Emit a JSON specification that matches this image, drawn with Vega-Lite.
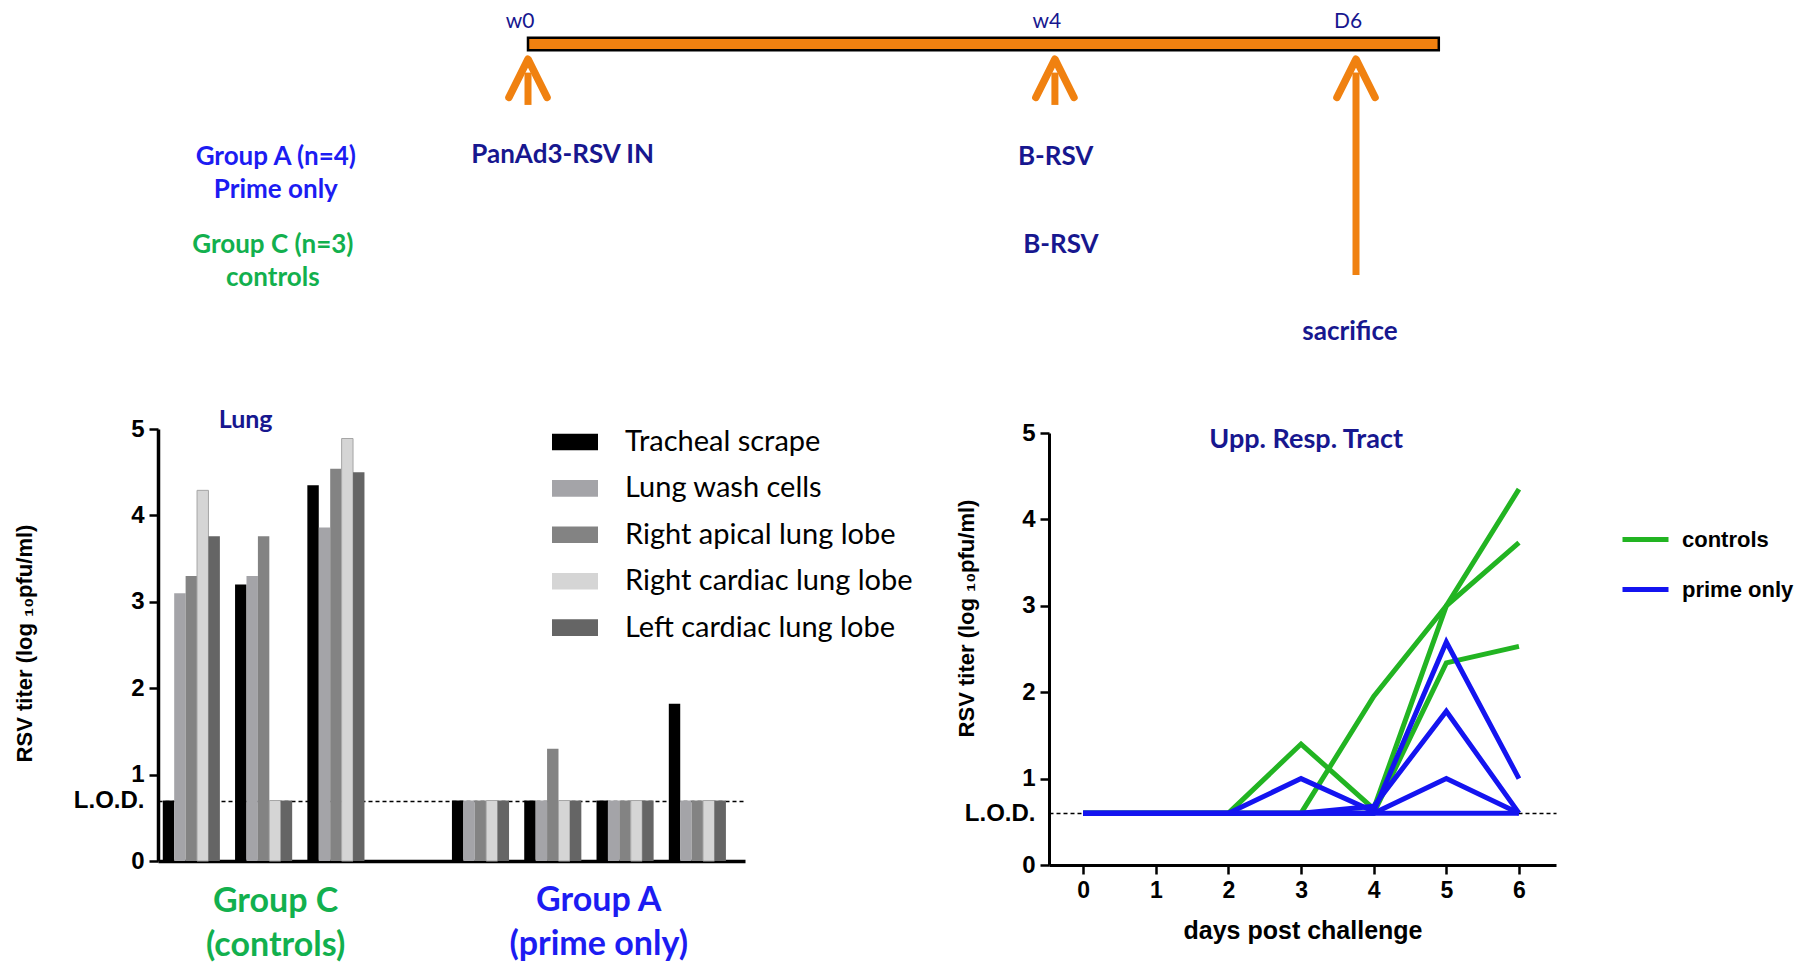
{
  "$schema": "https://vega.github.io/schema/vega-lite/v6.json",
  "width": 1814,
  "height": 964,
  "padding": 0,
  "autosize": {"type": "none"},
  "background": "white",
  "config": {"view": {"stroke": null}, "text": {"font": "Lato"}},
  "datasets": {
    "timeline": [{"start": 0, "end": 12.1}],
    "events": [
      {"label": "w0", "t": 0, "len": 2.13},
      {"label": "w4", "t": 7, "len": 2.13},
      {"label": "D6", "t": 11, "len": 8.08}
    ],
    "notes": [
      {"text": "Group A (n=4)", "t": -3.35, "row": 3.95, "kind": "A"},
      {"text": "Prime only", "t": -3.35, "row": 5.1, "kind": "A"},
      {"text": "Group C (n=3)", "t": -3.39, "row": 7.03, "kind": "C"},
      {"text": "controls", "t": -3.39, "row": 8.18, "kind": "C"},
      {"text": "PanAd3-RSV IN", "t": 0.46, "row": 3.88, "kind": "event"},
      {"text": "B-RSV", "t": 7.01, "row": 3.95, "kind": "event"},
      {"text": "B-RSV", "t": 7.08, "row": 7.03, "kind": "event"},
      {"text": "sacrifice", "t": 10.92, "row": 10.07, "kind": "event"}
    ],
    "lung": [
      {"mouse": "C1", "group": "Group C", "tissue": "Tracheal scrape", "titer": 0.7},
      {"mouse": "C1", "group": "Group C", "tissue": "Lung wash cells", "titer": 3.1},
      {"mouse": "C1", "group": "Group C", "tissue": "Right apical lung lobe", "titer": 3.3},
      {"mouse": "C1", "group": "Group C", "tissue": "Right cardiac lung lobe", "titer": 4.29},
      {"mouse": "C1", "group": "Group C", "tissue": "Left cardiac lung lobe", "titer": 3.76},
      {"mouse": "C2", "group": "Group C", "tissue": "Tracheal scrape", "titer": 3.2},
      {"mouse": "C2", "group": "Group C", "tissue": "Lung wash cells", "titer": 3.3},
      {"mouse": "C2", "group": "Group C", "tissue": "Right apical lung lobe", "titer": 3.76},
      {"mouse": "C2", "group": "Group C", "tissue": "Right cardiac lung lobe", "titer": 0.7},
      {"mouse": "C2", "group": "Group C", "tissue": "Left cardiac lung lobe", "titer": 0.7},
      {"mouse": "C3", "group": "Group C", "tissue": "Tracheal scrape", "titer": 4.35},
      {"mouse": "C3", "group": "Group C", "tissue": "Lung wash cells", "titer": 3.86},
      {"mouse": "C3", "group": "Group C", "tissue": "Right apical lung lobe", "titer": 4.54},
      {"mouse": "C3", "group": "Group C", "tissue": "Right cardiac lung lobe", "titer": 4.89},
      {"mouse": "C3", "group": "Group C", "tissue": "Left cardiac lung lobe", "titer": 4.5},
      {"mouse": "A1", "group": "Group A", "tissue": "Tracheal scrape", "titer": 0.7},
      {"mouse": "A1", "group": "Group A", "tissue": "Lung wash cells", "titer": 0.7},
      {"mouse": "A1", "group": "Group A", "tissue": "Right apical lung lobe", "titer": 0.7},
      {"mouse": "A1", "group": "Group A", "tissue": "Right cardiac lung lobe", "titer": 0.7},
      {"mouse": "A1", "group": "Group A", "tissue": "Left cardiac lung lobe", "titer": 0.7},
      {"mouse": "A2", "group": "Group A", "tissue": "Tracheal scrape", "titer": 0.7},
      {"mouse": "A2", "group": "Group A", "tissue": "Lung wash cells", "titer": 0.7},
      {"mouse": "A2", "group": "Group A", "tissue": "Right apical lung lobe", "titer": 1.3},
      {"mouse": "A2", "group": "Group A", "tissue": "Right cardiac lung lobe", "titer": 0.7},
      {"mouse": "A2", "group": "Group A", "tissue": "Left cardiac lung lobe", "titer": 0.7},
      {"mouse": "A3", "group": "Group A", "tissue": "Tracheal scrape", "titer": 0.7},
      {"mouse": "A3", "group": "Group A", "tissue": "Lung wash cells", "titer": 0.7},
      {"mouse": "A3", "group": "Group A", "tissue": "Right apical lung lobe", "titer": 0.7},
      {"mouse": "A3", "group": "Group A", "tissue": "Right cardiac lung lobe", "titer": 0.7},
      {"mouse": "A3", "group": "Group A", "tissue": "Left cardiac lung lobe", "titer": 0.7},
      {"mouse": "A4", "group": "Group A", "tissue": "Tracheal scrape", "titer": 1.82},
      {"mouse": "A4", "group": "Group A", "tissue": "Lung wash cells", "titer": 0.7},
      {"mouse": "A4", "group": "Group A", "tissue": "Right apical lung lobe", "titer": 0.7},
      {"mouse": "A4", "group": "Group A", "tissue": "Right cardiac lung lobe", "titer": 0.7},
      {"mouse": "A4", "group": "Group A", "tissue": "Left cardiac lung lobe", "titer": 0.7}
    ],
    "urt": [
      {"mouse": "C-a", "group": "controls", "day": 0, "titer": 0.6},
      {"mouse": "C-a", "group": "controls", "day": 1, "titer": 0.6},
      {"mouse": "C-a", "group": "controls", "day": 2, "titer": 0.6},
      {"mouse": "C-a", "group": "controls", "day": 3, "titer": 1.4},
      {"mouse": "C-a", "group": "controls", "day": 4, "titer": 0.65},
      {"mouse": "C-a", "group": "controls", "day": 5, "titer": 3.0},
      {"mouse": "C-a", "group": "controls", "day": 6, "titer": 3.73},
      {"mouse": "C-b", "group": "controls", "day": 0, "titer": 0.6},
      {"mouse": "C-b", "group": "controls", "day": 1, "titer": 0.6},
      {"mouse": "C-b", "group": "controls", "day": 2, "titer": 0.6},
      {"mouse": "C-b", "group": "controls", "day": 3, "titer": 0.6},
      {"mouse": "C-b", "group": "controls", "day": 4, "titer": 1.95},
      {"mouse": "C-b", "group": "controls", "day": 5, "titer": 3.0},
      {"mouse": "C-b", "group": "controls", "day": 6, "titer": 4.35},
      {"mouse": "C-c", "group": "controls", "day": 0, "titer": 0.6},
      {"mouse": "C-c", "group": "controls", "day": 1, "titer": 0.6},
      {"mouse": "C-c", "group": "controls", "day": 2, "titer": 0.6},
      {"mouse": "C-c", "group": "controls", "day": 3, "titer": 0.6},
      {"mouse": "C-c", "group": "controls", "day": 4, "titer": 0.6},
      {"mouse": "C-c", "group": "controls", "day": 5, "titer": 2.34},
      {"mouse": "C-c", "group": "controls", "day": 6, "titer": 2.53},
      {"mouse": "P-a", "group": "prime only", "day": 0, "titer": 0.6},
      {"mouse": "P-a", "group": "prime only", "day": 1, "titer": 0.6},
      {"mouse": "P-a", "group": "prime only", "day": 2, "titer": 0.6},
      {"mouse": "P-a", "group": "prime only", "day": 3, "titer": 1.0},
      {"mouse": "P-a", "group": "prime only", "day": 4, "titer": 0.62},
      {"mouse": "P-a", "group": "prime only", "day": 5, "titer": 2.58},
      {"mouse": "P-a", "group": "prime only", "day": 6, "titer": 1.0},
      {"mouse": "P-b", "group": "prime only", "day": 0, "titer": 0.6},
      {"mouse": "P-b", "group": "prime only", "day": 1, "titer": 0.6},
      {"mouse": "P-b", "group": "prime only", "day": 2, "titer": 0.6},
      {"mouse": "P-b", "group": "prime only", "day": 3, "titer": 0.6},
      {"mouse": "P-b", "group": "prime only", "day": 4, "titer": 0.68},
      {"mouse": "P-b", "group": "prime only", "day": 5, "titer": 1.78},
      {"mouse": "P-b", "group": "prime only", "day": 6, "titer": 0.6},
      {"mouse": "P-c", "group": "prime only", "day": 0, "titer": 0.6},
      {"mouse": "P-c", "group": "prime only", "day": 1, "titer": 0.6},
      {"mouse": "P-c", "group": "prime only", "day": 2, "titer": 0.6},
      {"mouse": "P-c", "group": "prime only", "day": 3, "titer": 0.6},
      {"mouse": "P-c", "group": "prime only", "day": 4, "titer": 0.6},
      {"mouse": "P-c", "group": "prime only", "day": 5, "titer": 1.0},
      {"mouse": "P-c", "group": "prime only", "day": 6, "titer": 0.6},
      {"mouse": "P-d", "group": "prime only", "day": 0, "titer": 0.6},
      {"mouse": "P-d", "group": "prime only", "day": 1, "titer": 0.6},
      {"mouse": "P-d", "group": "prime only", "day": 2, "titer": 0.6},
      {"mouse": "P-d", "group": "prime only", "day": 3, "titer": 0.6},
      {"mouse": "P-d", "group": "prime only", "day": 4, "titer": 0.6},
      {"mouse": "P-d", "group": "prime only", "day": 5, "titer": 0.6},
      {"mouse": "P-d", "group": "prime only", "day": 6, "titer": 0.6}
    ]
  },
  "layer": [
    {
      "layer": [
        {
          "data": {"name": "timeline"},
          "mark": {"type": "rect", "fill": "#F08110", "stroke": "black", "strokeWidth": 2.5},
          "encoding": {
            "x": {"field": "start", "type": "quantitative", "scale": {"domain": [0, 11], "range": [528, 1356], "nice": false, "zero": false}, "axis": null},
            "x2": {"field": "end"},
            "y": {"datum": -0.22, "type": "quantitative", "scale": {"domain": [0, 10], "range": [44, 330], "nice": false, "zero": false}, "axis": null},
            "y2": {"datum": 0.22}
          }
        },
        {
          "data": {"name": "events"},
          "mark": {"type": "rule", "color": "#F08110", "strokeWidth": 7},
          "encoding": {
            "x": {"field": "t", "type": "quantitative"},
            "y": {"field": "len", "type": "quantitative"},
            "y2": {"datum": 1.0}
          }
        },
        {
          "data": {"name": "events"},
          "mark": {"type": "point", "shape": "M-1,1L0,-1L1,1", "filled": false, "stroke": "#F08110", "strokeWidth": 7.5, "strokeJoin": "round", "strokeCap": "round", "size": 1450, "opacity": 1},
          "encoding": {
            "x": {"field": "t", "type": "quantitative"},
            "y": {"datum": 1.2, "type": "quantitative"}
          }
        },
        {
          "data": {"name": "events"},
          "mark": {"type": "text", "font": "Lato", "fontSize": 21, "color": "#17178F", "dx": -8, "baseline": "middle"},
          "encoding": {
            "x": {"field": "t", "type": "quantitative"},
            "y": {"datum": -0.78, "type": "quantitative"},
            "text": {"field": "label"}
          }
        },
        {
          "data": {"name": "notes"},
          "mark": {"type": "text", "font": "Lato", "fontSize": 26, "fontWeight": "bold", "baseline": "middle"},
          "encoding": {
            "x": {"field": "t", "type": "quantitative"},
            "y": {"field": "row", "type": "quantitative"},
            "text": {"field": "text"},
            "color": {"condition": [{"test": "datum.kind === 'A'", "value": "#1C1CF2"}, {"test": "datum.kind === 'C'", "value": "#12B04E"}], "value": "#17178F"}
          }
        }
      ]
    },
    {
      "layer": [
        {
          "data": {"name": "lung"},
          "mark": {"type": "bar", "stroke": "#A6A6A6"},
          "encoding": {
            "x": {
              "field": "mouse", "type": "nominal",
              "scale": {"domain": ["C1", "C2", "C3", "gap", "A1", "A2", "A3", "A4"], "range": [158, 745], "paddingInner": 0.21, "paddingOuter": 0.165, "align": 0.2},
              "axis": {"orient": "bottom", "offset": -103, "labels": false, "ticks": false, "title": null, "domainWidth": 3.5, "domainColor": "black", "grid": false}
            },
            "xOffset": {
              "field": "tissue", "type": "nominal",
              "sort": ["Tracheal scrape", "Lung wash cells", "Right apical lung lobe", "Right cardiac lung lobe", "Left cardiac lung lobe"],
              "scale": {"paddingInner": 0, "paddingOuter": 0}
            },
            "y": {
              "field": "titer", "type": "quantitative",
              "scale": {"domain": [0, 5], "range": [861, 429], "nice": false, "zero": true},
              "axis": {
                "orient": "left", "offset": -158,
                "values": [0, 0.7, 1, 2, 3, 4, 5],
                "labelExpr": "datum.value === 0.7 ? 'L.O.D.' : format(datum.value, 'd')",
                "labelFont": "Liberation Sans", "labelFontWeight": "bold", "labelFontSize": 24, "labelColor": "black", "labelPadding": 5, "labelOverlap": false,
                "tickSize": 9, "tickWidth": 2.5, "tickColor": "black",
                "tickOpacity": {"condition": {"test": "datum.value === 0.7", "value": 0}, "value": 1},
                "domainWidth": 3.5, "domainColor": "black",
                "grid": true, "gridColor": "black", "gridDash": [4, 3], "gridWidth": 1.3,
                "gridOpacity": {"condition": {"test": "datum.value === 0.7", "value": 1}, "value": 0},
                "title": "RSV titer (log ₁₀pfu/ml)",
                "titleFont": "Liberation Sans", "titleFontWeight": "bold", "titleFontSize": 22, "titleColor": "black",
                "titleAngle": -90, "titleBaseline": "middle", "titleAlign": "center", "titleX": -134, "titleY": 643
              }
            },
            "color": {
              "field": "tissue", "type": "nominal",
              "scale": {
                "domain": ["Tracheal scrape", "Lung wash cells", "Right apical lung lobe", "Right cardiac lung lobe", "Left cardiac lung lobe"],
                "range": ["#000000", "#A4A4A8", "#838383", "#D5D5D5", "#656565"]
              },
              "legend": {
                "orient": "none", "legendX": 552, "legendY": 419, "title": null, "padding": 0,
                "symbolType": "M-1,-0.36H1V0.36H-1Z", "symbolSize": 2116, "symbolStrokeWidth": 0, "symbolOpacity": 1,
                "labelFont": "Lato", "labelFontSize": 29, "labelColor": "black", "labelOffset": 27, "labelLimit": 500,
                "rowPadding": 8.4
              }
            },
            "strokeWidth": {"condition": {"test": "datum.tissue === 'Right cardiac lung lobe'", "value": 1}, "value": 0}
          }
        },
        {
          "data": {"values": [{"title": "Lung"}]},
          "mark": {"type": "text", "font": "Lato", "fontSize": 25, "fontWeight": "bold", "color": "#17178F", "dx": -18, "baseline": "middle"},
          "encoding": {
            "x": {"datum": "C2", "type": "nominal"},
            "y": {"datum": 5.1, "type": "quantitative"},
            "text": {"field": "title"}
          }
        },
        {
          "data": {"values": [{"label": "Group C\n(controls)"}]},
          "mark": {"type": "text", "font": "Lato", "fontSize": 34, "fontWeight": "bold", "color": "#12B04E", "dx": 12, "baseline": "middle", "lineBreak": "\n", "lineHeight": 44},
          "encoding": {
            "x": {"datum": "C2", "type": "nominal"},
            "y": {"datum": -0.48, "type": "quantitative"},
            "text": {"field": "label"}
          }
        },
        {
          "data": {"values": [{"label": "Group A\n(prime only)"}]},
          "mark": {"type": "text", "font": "Lato", "fontSize": 34, "fontWeight": "bold", "color": "#1C1CF2", "dx": 46, "baseline": "middle", "lineBreak": "\n", "lineHeight": 44},
          "encoding": {
            "x": {"datum": "A2", "type": "nominal"},
            "y": {"datum": -0.46, "type": "quantitative"},
            "text": {"field": "label"}
          }
        }
      ]
    },
    {
      "layer": [
        {
          "data": {"name": "urt"},
          "mark": {"type": "line", "strokeWidth": 5, "strokeJoin": "miter"},
          "encoding": {
            "x": {
              "field": "day", "type": "quantitative",
              "scale": {"domain": [-0.47, 6.51], "range": [1049, 1556], "nice": false, "zero": false},
              "axis": {
                "orient": "bottom", "offset": -99, "values": [0, 1, 2, 3, 4, 5, 6], "format": "d",
                "labelFont": "Liberation Sans", "labelFontWeight": "bold", "labelFontSize": 23, "labelColor": "black", "labelPadding": 5,
                "tickSize": 9, "tickWidth": 2.5, "tickColor": "black",
                "domainWidth": 3, "domainColor": "black", "grid": false,
                "title": "days post challenge", "titleFont": "Liberation Sans", "titleFontWeight": "bold", "titleFontSize": 25, "titleColor": "black",
                "titleBaseline": "middle", "titleY": 65
              }
            },
            "y": {
              "field": "titer", "type": "quantitative",
              "scale": {"domain": [0, 5], "range": [865, 433], "nice": false, "zero": true},
              "axis": {
                "orient": "left", "offset": -1049,
                "values": [0, 0.6, 1, 2, 3, 4, 5],
                "labelExpr": "datum.value === 0.6 ? 'L.O.D.' : format(datum.value, 'd')",
                "labelFont": "Liberation Sans", "labelFontWeight": "bold", "labelFontSize": 24, "labelColor": "black", "labelPadding": 5, "labelOverlap": false,
                "tickSize": 9, "tickWidth": 2.5, "tickColor": "black",
                "tickOpacity": {"condition": {"test": "datum.value === 0.6", "value": 0}, "value": 1},
                "domainWidth": 3, "domainColor": "black",
                "grid": true, "gridColor": "black", "gridDash": [4, 3], "gridWidth": 1.3,
                "gridOpacity": {"condition": {"test": "datum.value === 0.6", "value": 1}, "value": 0},
                "title": "RSV titer (log ₁₀pfu/ml)",
                "titleFont": "Liberation Sans", "titleFontWeight": "bold", "titleFontSize": 22, "titleColor": "black",
                "titleAngle": -90, "titleBaseline": "middle", "titleAlign": "center", "titleX": -83, "titleY": 618
              }
            },
            "color": {
              "field": "group", "type": "nominal",
              "scale": {"domain": ["controls", "prime only"], "range": ["#22B422", "#1414F0"]},
              "legend": {
                "orient": "none", "legendX": 1620, "legendY": 514, "title": null, "padding": 0,
                "symbolType": "stroke", "symbolSize": 2116, "symbolStrokeWidth": 5,
                "labelFont": "Liberation Sans", "labelFontWeight": "bold", "labelFontSize": 22, "labelColor": "black", "labelOffset": 11,
                "rowPadding": 13
              }
            },
            "detail": {"field": "mouse"}
          }
        },
        {
          "data": {"values": [{"title": "Upp. Resp. Tract"}]},
          "mark": {"type": "text", "font": "Lato", "fontSize": 27, "fontWeight": "bold", "color": "#17178F", "baseline": "middle"},
          "encoding": {
            "x": {"datum": 3.07, "type": "quantitative"},
            "y": {"datum": 4.92, "type": "quantitative"},
            "text": {"field": "title"}
          }
        }
      ]
    }
  ],
  "resolve": {
    "scale": {"x": "independent", "y": "independent", "color": "independent"},
    "axis": {"x": "independent", "y": "independent"},
    "legend": {"color": "independent"}
  }
}
